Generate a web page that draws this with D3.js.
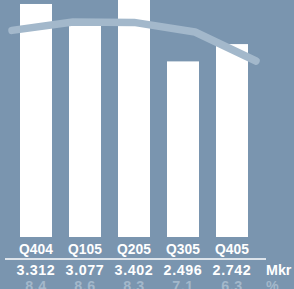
<!DOCTYPE html>
<html>
<head>
<meta charset="utf-8">
<script src="https://cdn.jsdelivr.net/npm/d3@7"></script>
<style>
  html, body { margin: 0; padding: 0; background: #7a95af; }
  svg { display: block; }
  text { font-family: "Liberation Sans", Arial, sans-serif; font-weight: bold; }
</style>
</head>
<body>
<div id="chart"></div>
<script>
  var
    width = 294,
    height = 289;

  // quarters + sales (Mkr) + margin (%)
  var quarters = ['Q404', 'Q105', 'Q205', 'Q305', 'Q405'];
  var sales = [3.312, 3.077, 3.402, 2.496, 2.742];
  var salesLabels = ['3.312', '3.077', '3.402', '2.496', '2.742'];
  var margins = [8.4, 8.6, 8.3, 7.1, 6.3];
  // trend line as drawn in the picture (estimated)
  var trend = [7.98, 8.4, 8.38, 7.9, 6.45];

  var svg = d3.select('#chart').append('svg')
    .attr('width', width)
    .attr('height', height);

  svg.append('rect')
    .attr('width', width)
    .attr('height', height)
    .attr('fill', '#7a95af');

  var x = d3.scaleBand()
    .domain(quarters)
    .range([20, 248])
    .paddingInner(0.347)
    .paddingOuter(0);

  // baseline at 237, ~70px per Mkr-thousand
  var y = d3.scaleLinear()
    .domain([0, 3.3686])
    .range([237, 0]);

  svg.append('g')
    .attr('class', 'bars')
    .selectAll('rect')
    .data(sales)
    .enter().append('rect')
    .attr('x', function(d, i) { return x(quarters[i]); })
    .attr('y', function(d) { return y(d); })
    .attr('width', x.bandwidth())
    .attr('height', function(d) { return y(0) - y(d); })
    .attr('fill', '#ffffff');

  // trend line
  var xLine = d3.scalePoint()
    .domain(quarters)
    .range([12, 256]);

  var yLine = d3.scaleLinear()
    .domain([5, 9])
    .range([90, 10]);

  var line = d3.line()
    .x(function(d, i) { return xLine(quarters[i]); })
    .y(function(d) { return yLine(d); });

  svg.append('path')
    .datum(trend)
    .attr('d', line)
    .attr('fill', 'none')
    .attr('stroke', '#a3b8cb')
    .attr('stroke-width', 7.5)
    .attr('stroke-linecap', 'round')
    .attr('stroke-linejoin', 'round');

  // quarter labels
  svg.append('g')
    .selectAll('text')
    .data(quarters)
    .enter().append('text')
    .attr('x', function(d) { return x(d) + x.bandwidth() / 2; })
    .attr('y', 254)
    .attr('text-anchor', 'middle')
    .attr('font-size', 13.8)
    .attr('fill', '#ffffff')
    .text(function(d) { return d; });

  // separator
  svg.append('line')
    .attr('x1', 5)
    .attr('x2', 266)
    .attr('y1', 259)
    .attr('y2', 259)
    .attr('stroke', '#ffffff')
    .attr('stroke-width', 1.6);

  // sales row
  svg.append('g')
    .selectAll('text')
    .data(salesLabels)
    .enter().append('text')
    .attr('x', function(d, i) { return x(quarters[i]) + x.bandwidth() / 2; })
    .attr('y', 274.5)
    .attr('text-anchor', 'middle')
    .attr('font-size', 14.3)
    .attr('letter-spacing', 0.6)
    .attr('fill', '#ffffff')
    .text(function(d) { return d; });

  svg.append('text')
    .attr('x', 266)
    .attr('y', 274.5)
    .attr('font-size', 14.3)
    .attr('fill', '#ffffff')
    .text('Mkr');

  // margin row (cut off by the bottom edge, as in the source)
  svg.append('g')
    .selectAll('text')
    .data(margins)
    .enter().append('text')
    .attr('x', function(d, i) { return x(quarters[i]) + x.bandwidth() / 2; })
    .attr('y', 291)
    .attr('text-anchor', 'middle')
    .attr('font-size', 14.3)
    .attr('letter-spacing', 0.6)
    .attr('fill', '#a3b8cb')
    .text(function(d) { return d.toFixed(1); });

  svg.append('text')
    .attr('x', 266)
    .attr('y', 291)
    .attr('font-size', 14.3)
    .attr('fill', '#a3b8cb')
    .text('%');
</script>
</body>
</html>
